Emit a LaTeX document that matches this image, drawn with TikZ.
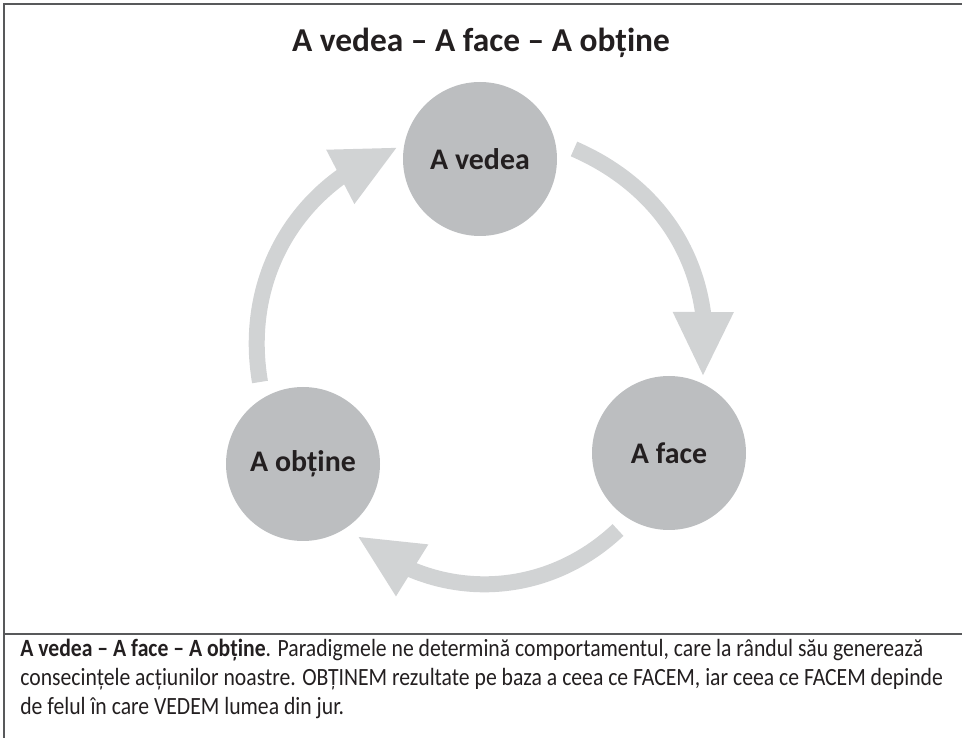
\documentclass[tikz,border=0pt]{standalone}
\usepackage{fontspec}
\setmainfont{Carlito}
\newfontfamily\capfont{Carlito}[FakeStretch=0.875]
\usetikzlibrary{arrows.meta,bending}
\definecolor{discgray}{HTML}{BCBEC0}
\definecolor{arrowgray}{HTML}{D1D3D4}
\definecolor{inkgray}{HTML}{231F20}
\definecolor{framegray}{HTML}{58595B}
\begin{document}
\begin{tikzpicture}[
  disc/.style={circle, fill=discgray, minimum size=3.08cm, inner sep=0pt,
    font=\fontsize{17}{20}\selectfont\bfseries, text=inkgray},
  cyc/.style={draw=arrowgray, line width=0.32cm,
    -{Triangle[length=1.3cm, width=1.12cm, fill=arrowgray]}},
  rule/.style={draw=framegray, line width=1.2pt}
]
\useasboundingbox (0,0) rectangle (19.24,-14.76);

% frame
\draw[rule] (0.08,-14.76) -- (0.08,-0.08) -- (19.24,-0.08);
\draw[rule] (0.08,-12.68) -- (19.24,-12.68);

\node[text=inkgray, font=\fontsize{19}{23}\selectfont\bfseries] (title) at (9.62,-0.86)
  {A vedea – A face – A obține};

% the three stages
\node[disc] (vedea) at (9.6,-3.18) {A vedea};
\node[disc] (face) at (13.38,-9.06) {A face};
\node[disc] (obtine) at (6.06,-9.28) {A obține};

% arrow ends
\coordinate (t1) at (5.2,-7.64);   \coordinate (h1) at (7.96,-2.94);
\coordinate (t2) at (11.48,-2.98); \coordinate (h2) at (14.06,-7.54);
\coordinate (t3) at (12.36,-10.6); \coordinate (h3) at (7.14,-10.72);

\foreach \a/\b/\bend in {t1/h1/40, t2/h2/37, t3/h3/42} {
  \draw[cyc] (\a) to[bend left=\bend] (\b);
}

% caption
\begin{scope}[every node/.style={anchor=base west, inner sep=0pt, text=inkgray,
    font=\capfont\fontsize{14.1}{17}\selectfont}]
\node (cap1) at (0.4,-13.14) {\textbf{A vedea – A face – A obține}. Paradigmele ne determină comportamentul, care la rândul său generează};
\node (cap2) at (0.4,-13.72) {consecințele acțiunilor noastre. OBȚINEM rezultate pe baza a ceea ce FACEM, iar ceea ce FACEM depinde};
\node (cap3) at (0.4,-14.30) {de felul în care VEDEM lumea din jur.};
\end{scope}
\end{tikzpicture}
\end{document}
